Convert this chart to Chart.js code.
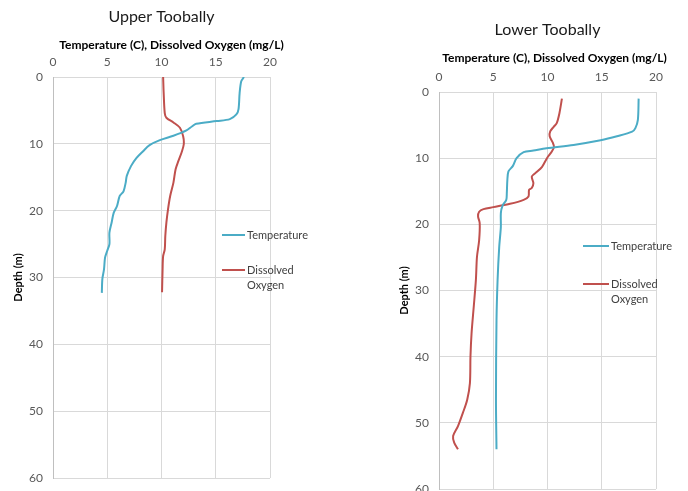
<!DOCTYPE html>
<html>
<head>
<meta charset="utf-8">
<script src="https://cdn.jsdelivr.net/npm/chart.js@4/dist/chart.umd.min.js"></script>
<style>
  html, body { margin: 0; padding: 0; background: #fff; overflow: hidden; }
  .box { position: absolute; top: 0; }
</style>
</head>
<body>
<div class="box" style="left:0;width:344px;height:520px"><canvas id="upper" width="344" height="520"></canvas></div>
<div class="box" style="left:344px;width:344px;height:520px"><canvas id="lower" width="344" height="520"></canvas></div>
<script>
// Upper Toobally
const upperTempDepth = [0, 0.65, 2.4, 4.8, 5.6, 6.3, 6.6, 7.0, 7.4, 8.0, 8.8, 9.45, 10.2, 11.1, 12.1, 13.3, 14.8, 15.8, 17.1, 17.8, 19.3, 20.3, 21.8, 23.3, 25.0, 26.0, 27.0, 28.8, 30.2, 32.3];
const upperTemp = [17.6, 17.35, 17.2, 17.1, 16.9, 16.3, 15.1, 13.2, 12.8, 12.3, 11.1, 9.85, 8.9, 8.3, 7.7, 7.2, 6.8, 6.7, 6.5, 6.15, 5.9, 5.6, 5.4, 5.2, 5.2, 5.0, 4.8, 4.7, 4.55, 4.5];
const upperOxyDepth = [0, 2.4, 5.4, 6.1, 6.8, 7.6, 8.9, 10.1, 11.3, 12.6, 13.8, 15.8, 17.8, 19.8, 21.8, 23.8, 25.8, 26.8, 28.8, 32.2];
const upperOxy = [10.15, 10.2, 10.3, 10.45, 11.1, 11.7, 12.0, 12.05, 11.85, 11.55, 11.3, 11.1, 10.8, 10.6, 10.45, 10.35, 10.3, 10.15, 10.1, 10.05];

// Lower Toobally
const lowerTempDepth = [1.0, 4.2, 5.45, 6.0, 6.7, 7.3, 8.0, 8.5, 8.85, 9.1, 10.0, 11.2, 12.0, 13.3, 15.3, 16.3, 17.2, 18.3, 20.4, 23.4, 28.4, 34.5, 46.5, 54];
const lowerTemp = [18.4, 18.33, 18.1, 17.8, 16.4, 14.9, 12.4, 9.9, 8.7, 7.8, 7.15, 6.8, 6.4, 6.3, 6.25, 6.2, 5.85, 5.7, 5.7, 5.55, 5.4, 5.3, 5.25, 5.3];
const lowerOxyDepth = [1.0, 3.2, 4.7, 5.3, 5.95, 6.7, 7.7, 8.3, 9.0, 10.0, 11.3, 12.3, 12.8, 13.8, 14.5, 14.8, 15.8, 16.3, 16.9, 17.4, 17.7, 18.1, 18.8, 19.8, 22.4, 24.9, 28.4, 32.5, 36.5, 40, 44, 46.5, 48.5, 50.5, 52, 53, 54];
const lowerOxy = [11.33, 11.1, 10.85, 10.55, 10.25, 10.2, 10.5, 10.6, 10.4, 9.95, 9.5, 8.85, 8.55, 8.7, 8.55, 8.3, 8.25, 7.8, 6.55, 5.0, 4.1, 3.7, 3.6, 3.75, 3.7, 3.5, 3.4, 3.2, 3.0, 2.9, 2.85, 2.6, 2.2, 1.75, 1.3, 1.4, 1.75];

const seriesNames = ['Temperature', 'Dissolved Oxygen'];
const xAxisTitle = 'Temperature (C), Dissolved Oxygen (mg/L)';
const yAxisTitle = 'Depth (m)';

const tempColor = '#4BACC6';
const oxyColor = '#C0504D';

Chart.defaults.font.family = 'Lato, "Open Sans", sans-serif';

function pairs(xs, ys) {
    return xs.map((x, i) => ({ x: x, y: ys[i] }));
}

// titles and the in-plot legend
const decor = {
    id: 'decor',
    afterDraw(chart, args, opts) {
        const ctx = chart.ctx;
        const area = chart.chartArea;
        const mid = (area.left + area.right) / 2;
        ctx.save();
        ctx.textBaseline = 'middle';
        ctx.textAlign = 'center';
        ctx.fillStyle = '#1a1a1a';
        ctx.font = '16px Lato';
        ctx.fillText(opts.title, mid, opts.titleY);
        ctx.fillStyle = '#000';
        ctx.font = 'bold 12px Lato';
        ctx.fillText(xAxisTitle, mid + opts.axisShift, opts.axisY);

        ctx.textAlign = 'left';
        ctx.font = '11px Lato';
        ctx.lineWidth = 2;
        chart.data.datasets.forEach((ds, i) => {
            const y = opts.legendY[i];
            ctx.strokeStyle = ds.borderColor;
            ctx.beginPath();
            ctx.moveTo(opts.legendX, y);
            ctx.lineTo(opts.legendX + opts.lineLen, y);
            ctx.stroke();
            ctx.fillStyle = '#404040';
            const words = i === 1 ? ['Dissolved', 'Oxygen'] : [ds.label];
            words.forEach((w, k) => ctx.fillText(w, opts.legendX + opts.lineLen + 2, y + k * 15.5));
        });
        ctx.restore();
    }
};

function makeChart(id, tempD, temp, oxyD, oxy, padding, deco) {
    return new Chart(document.getElementById(id), {
        type: 'scatter',
        data: {
            datasets: [
                {
                    label: seriesNames[0],
                    data: pairs(temp, tempD),
                    showLine: true,
                    borderColor: tempColor,
                    borderWidth: 2,
                    pointRadius: 0,
                    tension: 0.3
                },
                {
                    label: seriesNames[1],
                    data: pairs(oxy, oxyD),
                    showLine: true,
                    borderColor: oxyColor,
                    borderWidth: 2,
                    pointRadius: 0,
                    tension: 0.3
                }
            ]
        },
        options: {
            responsive: false,
            animation: false,
            layout: { padding: padding },
            plugins: {
                legend: { display: false },
                tooltip: { enabled: false },
                decor: deco
            },
            scales: {
                x: {
                    type: 'linear',
                    position: 'top',
                    min: 0,
                    max: 20,
                    ticks: { stepSize: 5, padding: 8, color: '#595959', font: { size: 12 } },
                    grid: { color: '#d9d9d9', drawTicks: false },
                    border: { color: '#d9d9d9' },
                    afterFit: s => { s.height = 20; }
                },
                y: {
                    type: 'linear',
                    reverse: true,
                    min: 0,
                    max: 60,
                    ticks: { stepSize: 10, padding: 10, color: '#595959', font: { size: 12 } },
                    grid: { color: '#d9d9d9', drawTicks: false },
                    border: { color: '#bfbfbf' },
                    title: {
                        display: true,
                        text: yAxisTitle,
                        color: '#000',
                        font: { size: 11, weight: 'bold' },
                        padding: { top: 2, bottom: 0 }
                    },
                    afterFit: s => { s.width = 43; }
                }
            }
        },
        plugins: [decor]
    });
}

makeChart('upper', upperTempDepth, upperTemp, upperOxyDepth, upperOxy,
    { top: 57, left: 10, right: 74, bottom: 42 },
    { title: 'Upper Toobally', titleY: 17, axisY: 45, axisShift: 10,
      legendX: 222, lineLen: 23, legendY: [235, 270] });

makeChart('lower', lowerTempDepth, lowerTemp, lowerOxyDepth, lowerOxy,
    { top: 72, left: 52, right: 32, bottom: 31 },
    { title: 'Lower Toobally', titleY: 30, axisY: 58, axisShift: 7,
      legendX: 239, lineLen: 26, legendY: [246, 284] });
</script>
</body>
</html>
